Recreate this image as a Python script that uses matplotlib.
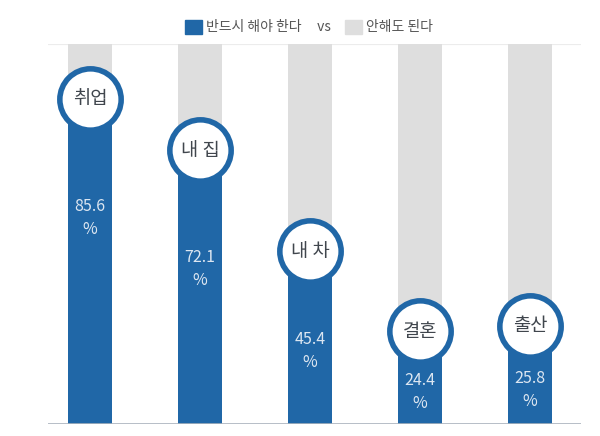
import numpy as np
import matplotlib.pyplot as plt
from matplotlib.patches import Patch

plt.rcParams['font.family'] = ['Noto Sans CJK KR', 'DejaVu Sans']

# 데이터
categories = ['취업', '내 집', '내 차', '결혼', '출산']
must_values = [85.6, 72.1, 45.4, 24.4, 25.8]
series_labels = ['반드시 해야 한다', '안해도 된다']

BLUE = '#2067a7'
GRAY = '#dedede'

fig = plt.figure(figsize=(6, 4.36), dpi=100)
ax = fig.add_axes([48 / 600, 12 / 436, 533 / 600, 380 / 436])

x = np.arange(len(categories))
ax.bar(x, [100] * len(categories), width=0.4, color=GRAY, zorder=1)
ax.bar(x, must_values, width=0.4, color=BLUE, zorder=2)

# 원형 라벨
ax.scatter(x, must_values, s=1950, c='white', edgecolors=BLUE,
           linewidths=4.0, zorder=3, clip_on=False)

r = 8.4  # 원 반지름 (데이터 단위)
for xi, v, cat in zip(x, must_values, categories):
    ax.text(xi, v, cat, ha='center', va='center', fontsize=13.5,
            color='#40464d', zorder=4)
    cb = v - r
    ly = max(cb - 23, cb * 0.52)
    ax.text(xi, ly, f'{v:.1f}\n%', ha='center', va='center', fontsize=11.5,
            color='#dce6f1', linespacing=1.45, zorder=4)

ax.axhline(100, color='#ececec', lw=0.8, zorder=0)
ax.axhline(0, color='#aab3bd', lw=1.2, zorder=5)

ax.set_xlim(-0.382, 4.464)
ax.set_ylim(0, 100)
ax.axis('off')

handles = [Patch(color=BLUE, label=series_labels[0] + '     vs'),
           Patch(color=GRAY, label=series_labels[1])]
fig.legend(handles=handles, loc='center', bbox_to_anchor=(0.515, 1 - 27 / 436),
           ncol=2, frameon=False, fontsize=10, handlelength=1.2,
           handleheight=1.2, handletextpad=0.3, columnspacing=1.0,
           labelcolor='#555555')

fig.savefig('out.png', dpi=100)
